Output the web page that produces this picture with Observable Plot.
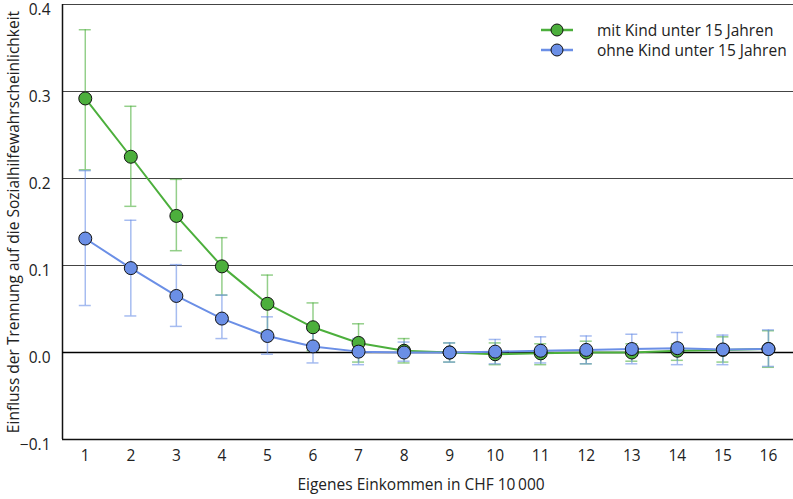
<!DOCTYPE html>
<html>
<head>
<meta charset="utf-8">
<script src="https://cdn.jsdelivr.net/npm/d3@7"></script>
<script src="https://cdn.jsdelivr.net/npm/@observablehq/plot@0.6"></script>
<style>
  html, body { margin: 0; padding: 0; background: #fff; }
  #wrap { position: relative; width: 793px; height: 499px; font-family: "Open Sans", sans-serif; }
  #wrap svg text { font-size: 15.5px !important; fill: #222; }
  #legend { position: absolute; left: 541px; top: 20px; font-size: 15.5px; color: #222; }
  .item { display: flex; align-items: center; height: 20px; }
  .item svg { margin-right: 24px; }
</style>
</head>
<body>
<div id="wrap"><div id="legend"></div></div>
<script>
const income = [1, 2, 3, 4, 5, 6, 7, 8, 9, 10, 11, 12, 13, 14, 15, 16];
const mitMean = [0.292, 0.225, 0.157, 0.099, 0.056, 0.029, 0.011, 0.002, 0.000, -0.002, -0.001, 0.000, 0.000, 0.002, 0.003, 0.004];
const mitLo   = [0.210, 0.168, 0.117, 0.066, 0.024, 0.002, -0.011, -0.012, -0.011, -0.014, -0.014, -0.013, -0.010, -0.009, -0.011, -0.017];
const mitHi   = [0.371, 0.283, 0.199, 0.132, 0.089, 0.057, 0.033, 0.016, 0.011, 0.011, 0.010, 0.013, 0.010, 0.010, 0.018, 0.025];
const ohneMean = [0.131, 0.097, 0.065, 0.039, 0.019, 0.007, 0.001, 0.000, 0.000, 0.001, 0.002, 0.003, 0.004, 0.005, 0.0035, 0.004];
const ohneLo   = [0.054, 0.042, 0.030, 0.016, -0.002, -0.012, -0.014, -0.010, -0.011, -0.013, -0.012, -0.013, -0.013, -0.014, -0.014, -0.016];
const ohneHi   = [0.209, 0.152, 0.101, 0.066, 0.041, 0.026, 0.016, 0.012, 0.011, 0.015, 0.018, 0.019, 0.021, 0.023, 0.020, 0.026];
const seriesNames = ["mit Kind unter 15 Jahren", "ohne Kind unter 15 Jahren"];
const seriesColors = ["#4caf3c", "#6b8fe6"];
const yTicks = [-0.1, 0.0, 0.1, 0.2, 0.3, 0.4];
const gridTicks = [0.1, 0.2, 0.3, 0.4];
const xLabel = "Eigenes Einkommen in CHF 10\u2009000";
const yLabel = "Einfluss der Trennung auf die Sozialhilfewahrscheinlichkeit";

const mit = income.map((x, i) => ({x, y: mitMean[i], lo: mitLo[i], hi: mitHi[i]}));
const ohne = income.map((x, i) => ({x, y: ohneMean[i], lo: ohneLo[i], hi: ohneHi[i]}));

function seriesMarks(data, color) {
  return [
    Plot.ruleX(data, {x: "x", y1: "lo", y2: "hi", stroke: color, strokeOpacity: 0.6, strokeWidth: 1.5}),
    Plot.ruleY(data, {y: "lo", x1: "x", x2: "x", insetLeft: -6, insetRight: -6, stroke: color, strokeOpacity: 0.6, strokeWidth: 1.5}),
    Plot.ruleY(data, {y: "hi", x1: "x", x2: "x", insetLeft: -6, insetRight: -6, stroke: color, strokeOpacity: 0.6, strokeWidth: 1.5})
  ];
}

const chart = Plot.plot({
  width: 793,
  height: 499,
  marginLeft: 62,
  marginRight: 0,
  marginTop: 4,
  marginBottom: 60,
  style: {fontFamily: "Open Sans, sans-serif", fontSize: "15.5px", color: "#222", background: "#fff", overflow: "visible"},
  x: {domain: [0.5, 16.55]},
  y: {domain: [-0.1, 0.4]},
  marks: [
    Plot.ruleY(gridTicks, {stroke: "#444", strokeWidth: 1}),
    Plot.ruleY([-0.1], {stroke: "#111", strokeWidth: 1.5}),
    Plot.ruleX([0.5], {stroke: "#111", strokeWidth: 1.5}),
    Plot.ruleY([0], {stroke: "#000", strokeWidth: 1.5}),
    Plot.axisY({ticks: yTicks, tickFormat: d3.format(".1f"), tickSize: 0, tickPadding: 12, dy: 6, label: null}),
    Plot.axisY({ticks: [], label: yLabel, labelAnchor: "center", labelArrow: "none", labelOffset: 55}),
    Plot.axisX({ticks: income, tickFormat: d3.format("d"), tickSize: 0, tickPadding: 10, label: null}),
    Plot.text([xLabel], {text: d => d, frameAnchor: "bottom", dy: 50, dx: -7}),
    ...seriesMarks(mit, seriesColors[0]),
    ...seriesMarks(ohne, seriesColors[1]),
    Plot.line(mit, {x: "x", y: "y", stroke: seriesColors[0], strokeWidth: 2}),
    Plot.line(ohne, {x: "x", y: "y", stroke: seriesColors[1], strokeWidth: 2}),
    Plot.dot(mit, {x: "x", y: "y", r: 6.5, fill: seriesColors[0], stroke: "#111", strokeWidth: 1}),
    Plot.dot(ohne, {x: "x", y: "y", r: 6.5, fill: seriesColors[1], stroke: "#111", strokeWidth: 1})
  ]
});
document.getElementById("wrap").prepend(chart);

const legend = document.getElementById("legend");
seriesNames.forEach((name, i) => {
  const div = document.createElement("div");
  div.className = "item";
  div.innerHTML = `<svg width="32" height="16"><line x1="0" y1="8" x2="32" y2="8" stroke="${seriesColors[i]}" stroke-width="2.5"/><circle cx="16" cy="8" r="6" fill="${seriesColors[i]}" stroke="#111"/></svg><span>${name}</span>`;
  legend.appendChild(div);
});
</script>
</body>
</html>
